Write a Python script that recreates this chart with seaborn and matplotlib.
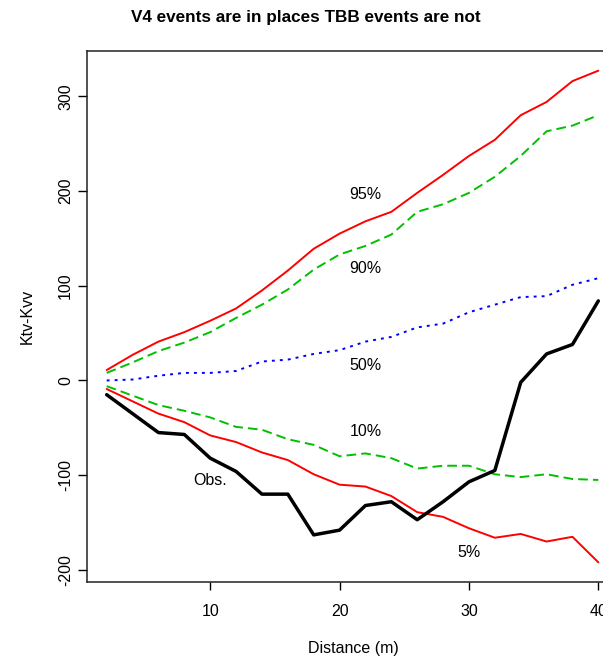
import numpy as np
import pandas as pd
import matplotlib
matplotlib.use("Agg")
from matplotlib import pyplot as plt
import seaborn as sns

# distance (m) and envelope curves
distance = list(range(2, 41, 2))
q95 = [11, 27, 41, 51, 63, 76, 95, 116, 139, 155, 168, 178, 198, 217, 237, 254, 280, 294, 316, 327]
q90 = [8, 19, 31, 40, 51, 66, 80, 96, 117, 133, 142, 154, 178, 186, 198, 215, 237, 263, 269, 280]
q50 = [0, 1, 5, 8, 8, 10, 20, 22, 28, 32, 41, 46, 56, 60, 72, 80, 88, 89, 101, 108]
q10 = [-6, -16, -26, -32, -39, -49, -52, -62, -68, -80, -77, -82, -93, -90, -90, -99, -102, -99, -104, -105]
q05 = [-9, -22, -35, -44, -58, -65, -76, -84, -99, -110, -112, -122, -139, -144, -156, -166, -162, -170, -165, -192]
obs = [-15, -35, -55, -57, -82, -96, -120, -120, -163, -158, -132, -128, -147, -128, -107, -95, -2, 28, 38, 84]

yticks = [-200, -100, 0, 100, 200, 300]
xticks = [10, 20, 30, 40]

sns.set_style("ticks")
plt.rcParams["font.family"] = ["Liberation Sans", "DejaVu Sans"]
plt.rcParams["text.color"] = "black"
plt.rcParams["xtick.color"] = "black"
plt.rcParams["ytick.color"] = "black"

fig = plt.figure(figsize=(6.03, 6.59), dpi=100)
# plot region runs past the right edge like the original
ax = fig.add_axes([0.1443, 0.1168, 0.8806, 0.8058])

sns.lineplot(x=distance, y=q95, ax=ax, color="red", lw=1.4)
sns.lineplot(x=distance, y=q90, ax=ax, color="#00c000", lw=1.4, linestyle=(0, (5, 2.6)))
sns.lineplot(x=distance, y=q50, ax=ax, color="blue", lw=1.4, linestyle=(0, (1.5, 2.6)))
sns.lineplot(x=distance, y=q10, ax=ax, color="#00c000", lw=1.4, linestyle=(0, (5, 2.6)))
sns.lineplot(x=distance, y=q05, ax=ax, color="red", lw=1.4)
sns.lineplot(x=distance, y=obs, ax=ax, color="black", lw=2.5)

# curve labels
fs = 11.5
ax.text(22, 196, "95%", ha="center", va="center", fontsize=fs)
ax.text(22, 118, "90%", ha="center", va="center", fontsize=fs)
ax.text(22, 16, "50%", ha="center", va="center", fontsize=fs)
ax.text(22, -54, "10%", ha="center", va="center", fontsize=fs)
ax.text(10, -106, "Obs.", ha="center", va="center", fontsize=fs)
ax.text(30, -182, "5%", ha="center", va="center", fontsize=fs)

span = max(q95) - min(q05)
ax.set_xlim(2 - 0.04 * 38, 40 + 0.04 * 38)
ax.set_ylim(min(q05) - 0.04 * span, max(q95) + 0.04 * span)
ax.set_xticks(xticks)
ax.set_yticks(yticks)
ax.set_yticklabels([str(v) for v in yticks], rotation=90, va="center")
ax.tick_params(axis="x", length=5.5, width=1, pad=10, labelsize=fs, colors="black")
ax.tick_params(axis="y", length=6.5, width=1, pad=3.5, labelsize=fs, colors="black")
for s in ax.spines.values():
    s.set_color("#222222")
    s.set_linewidth(1.1)

ax.set_xlabel("")
ax.set_ylabel("")
fig.text(353 / 603, 1 - 649 / 659, "Distance (m)", ha="center", va="center", fontsize=fs)
fig.text(27.5 / 603, 1 - 316.5 / 659, "Ktv-Kvv", ha="center", va="center", rotation=90, fontsize=fs)
fig.text(306 / 603, 1 - 17.5 / 659, "V4 events are in places TBB events are not",
         ha="center", va="center", fontsize=12.3, fontweight="bold")

fig.savefig("out.png", dpi=100)
